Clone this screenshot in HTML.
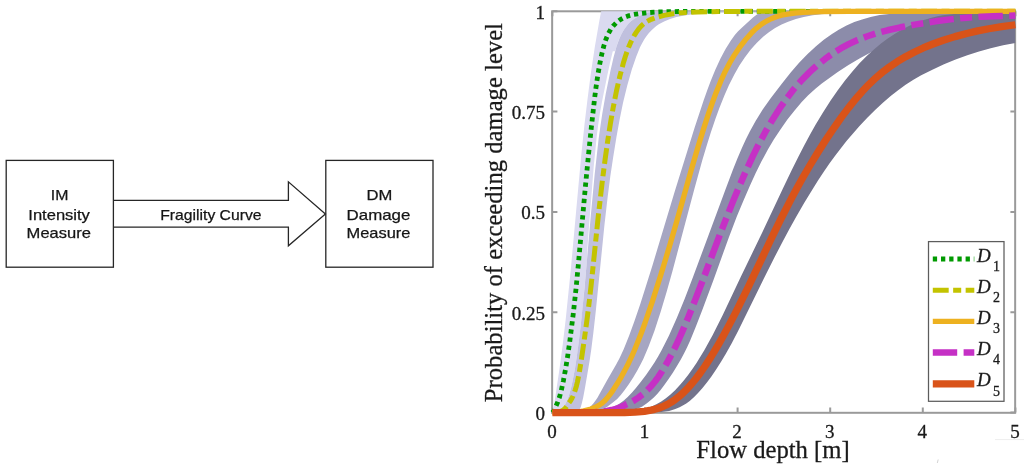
<!DOCTYPE html>
<html lang="en"><head><meta charset="utf-8"><title>Fragility curves</title>
<style>
html,body{margin:0;padding:0;background:#fff;}
body{width:1024px;height:465px;overflow:hidden;position:relative;}
svg{position:absolute;left:0;top:0;display:block;}
.sans{font-family:"Liberation Sans",sans-serif;font-size:15px;fill:#151515;stroke:#151515;stroke-width:0.25px;}
.serif{font-family:"Liberation Serif",serif;fill:#1a1a1a;stroke:#1a1a1a;stroke-width:0.3px;}
.tick{font-size:19px;}
.lab{font-size:24.65px;}
.leg{font-size:19px;font-style:italic;}
.sub{font-size:14px;font-style:normal;}
</style></head><body>
<svg width="1024" height="465" viewBox="0 0 1024 465">
<rect x="0" y="0" width="1024" height="465" fill="#ffffff"/>
<g fill="none" stroke="#262626" stroke-width="1.3">
<rect x="6.2" y="160.4" width="107.2" height="106.8"/>
<rect x="325.8" y="160.4" width="107.2" height="106.8"/>
<path d="M113.4 200.4H288.4V181.8L325.4 213.9L288.4 245.8V227.2H113.4"/>
</g>
<g class="sans" text-anchor="middle" lengthAdjust="spacingAndGlyphs">
<text x="59.6" y="199.8" textLength="17.6" lengthAdjust="spacingAndGlyphs">IM</text>
<text x="59.1" y="219.8" textLength="61.6" lengthAdjust="spacingAndGlyphs">Intensity</text>
<text x="58.8" y="238.4" textLength="64.4" lengthAdjust="spacingAndGlyphs">Measure</text>
<text x="210.9" y="219.8" textLength="101.4" lengthAdjust="spacingAndGlyphs">Fragility Curve</text>
<text x="379.4" y="199.8" textLength="25.8" lengthAdjust="spacingAndGlyphs">DM</text>
<text x="378.5" y="219.8" textLength="63.8" lengthAdjust="spacingAndGlyphs">Damage</text>
<text x="378.5" y="238.4" textLength="63.8" lengthAdjust="spacingAndGlyphs">Measure</text>
</g>
<defs><clipPath id="axclip"><rect x="552.4" y="11.3" width="463.0" height="401.3"/></clipPath></defs>
<g fill="none" stroke="#9a9a9a" stroke-width="2">
<rect x="552.15" y="11.3" width="463" height="401.5"/>
<path d="M552.4 412.6v-5M552.4 11.3v5M645.0 412.6v-5M645.0 11.3v5M737.6 412.6v-5M737.6 11.3v5M830.2 412.6v-5M830.2 11.3v5M922.8 412.6v-5M922.8 11.3v5M1015.4 412.6v-5M1015.4 11.3v5M552.4 412.6h5M1015.4 412.6h-5M552.4 312.3h5M1015.4 312.3h-5M552.4 212.0h5M1015.4 212.0h-5M552.4 111.6h5M1015.4 111.6h-5M552.4 11.3h5M1015.4 11.3h-5"/>
</g>
<g clip-path="url(#axclip)">
<path d="M552.5 412.6L553.5 407.4L555.3 396.9L559.2 370.8L562.7 344.7L565.8 318.6L570.6 271.6L581.1 156.7L584.4 125.3L587.5 99.2L590.9 73.1L594.8 47.0L599.3 20.9L603.3 0.0L1015.4 0.0L1015.4 11.3L689.7 11.3L663.6 11.5L657.4 11.7L652.4 12.1L648.3 12.6L645.8 13.3L641.9 14.7L638.0 16.6L633.9 19.0L630.9 21.3L628.4 23.8L626.1 26.5L624.0 29.5L622.0 33.0L620.1 36.7L618.5 40.6L616.9 45.2L615.1 51.2L612.8 51.2L610.3 61.5L607.8 73.0L602.1 101.3L599.8 114.1L598.2 124.8L596.8 135.7L593.8 165.7L589.3 222.4L587.2 251.4L587.0 259.7L582.6 308.0L580.3 328.9L577.6 350.9L575.3 366.4L573.0 379.1L571.0 388.3L568.7 396.3L566.6 401.6L563.4 407.8L561.6 410.1L560.4 411.0L559.3 411.6L556.5 412.3L552.4 412.6Z" fill="#dadaf0"/>
<path d="M552.4 412.6L556.5 412.3L559.3 411.6L560.4 411.0L561.6 410.1L563.4 407.8L566.6 401.6L568.7 396.2L571.0 388.3L573.0 379.1L575.1 367.8L576.9 355.8L578.7 342.0L580.8 324.4L584.5 288.2L590.9 214.4L594.7 173.9L598.6 139.1L600.5 125.4L602.3 113.4L605.7 94.0L610.3 71.4L613.5 57.4L616.5 46.6L617.9 42.5L619.5 38.3L621.1 34.8L622.7 31.7L624.5 28.8L626.6 25.9L628.8 23.3L630.9 21.3L633.9 19.0L638.0 16.6L641.9 14.7L645.8 13.3L648.3 12.6L652.4 12.1L657.4 11.7L663.6 11.5L689.7 11.3L1015.4 11.3L1015.4 11.3L772.5 11.4L740.0 11.6L717.9 12.3L705.6 13.0L694.5 14.0L684.4 15.4L676.4 17.0L670.0 18.9L664.1 21.4L658.8 24.3L656.3 26.1L654.0 27.9L651.3 30.5L648.7 33.3L646.2 36.5L644.2 39.6L642.1 43.2L640.0 47.3L636.2 56.7L631.8 69.6L627.2 85.7L623.1 102.6L619.5 120.3L616.5 136.7L613.1 157.7L610.3 176.4L607.6 197.4L604.4 225.6L595.7 312.1L593.4 332.6L591.3 349.2L589.5 361.5L585.1 387.2L583.3 396.9L581.9 403.0L580.8 406.9L579.6 409.8L578.5 411.5L577.8 412.1L577.1 412.4L574.6 412.6L552.4 412.6Z" fill="#c0c0de"/>
<path d="M552.4 412.6L570.3 412.5L578.3 412.1L581.5 411.5L584.2 410.7L586.7 409.5L588.8 408.1L591.3 405.7L593.1 403.7L595.2 401.0L597.3 397.9L599.8 393.6L607.1 380.2L616.3 364.3L619.5 358.3L623.8 348.9L629.1 335.8L634.3 321.4L640.3 303.9L652.6 264.9L674.8 191.3L694.5 128.1L703.6 100.4L707.5 89.4L710.8 80.8L715.3 69.8L720.5 58.6L725.7 48.8L730.9 40.4L734.8 35.0L738.1 31.3L742.6 26.9L753.0 17.5L756.9 14.6L758.8 13.5L760.8 12.7L764.7 11.8L771.8 11.4L790.0 11.3L1015.4 11.3L1015.4 11.3L918.6 11.4L876.4 11.7L859.5 12.0L845.2 12.6L832.9 13.3L821.2 14.3L812.8 15.3L803.7 17.1L795.9 19.1L788.1 21.7L781.6 24.5L775.1 28.0L769.2 31.9L763.4 36.6L756.9 42.7L753.7 46.2L750.4 50.0L744.6 57.7L739.4 65.6L734.2 74.7L729.0 85.1L724.4 95.4L719.2 108.5L715.3 119.2L710.8 132.6L706.9 144.9L702.3 160.2L694.5 188.4L672.5 271.0L666.6 292.1L660.6 311.9L654.5 330.7L648.5 346.7L643.3 359.0L640.5 364.6L637.3 370.6L633.2 377.6L628.8 384.3L624.7 390.1L620.8 395.0L617.2 398.9L613.5 402.1L607.6 406.5L604.4 408.4L601.2 409.8L597.7 410.8L593.6 411.5L589.0 412.0L577.4 412.5L552.4 412.6Z" fill="#a6a6c2"/>
<path d="M552.4 412.6L579.9 412.5L592.9 412.1L598.2 411.6L602.5 410.9L606.4 410.0L610.1 408.7L613.5 407.1L619.7 403.4L623.8 400.4L627.7 396.9L631.8 392.8L635.9 388.0L640.7 382.0L646.0 374.9L650.3 368.7L654.5 362.4L658.1 356.4L661.3 350.7L665.0 343.6L668.9 335.7L676.9 317.7L684.7 298.8L693.2 276.6L725.1 190.4L732.9 169.8L737.4 158.5L742.0 147.8L745.9 139.3L749.8 131.4L755.6 120.9L762.7 109.5L770.5 98.4L781.6 83.9L790.7 72.4L799.1 62.7L807.6 54.0L816.0 46.2L823.8 39.8L831.6 34.2L838.7 29.7L846.5 25.6L854.3 22.1L862.1 19.4L870.6 17.0L879.7 15.1L886.8 14.2L898.5 13.1L910.2 12.5L923.8 12.0L956.9 11.4L1015.4 11.3L1015.4 15.4L999.2 16.9L983.6 18.7L968.6 20.9L955.0 23.3L942.0 26.1L929.0 29.5L916.7 33.2L905.0 37.2L893.3 41.8L881.6 46.9L870.6 52.4L859.5 58.4L848.5 65.0L837.4 72.3L821.8 83.5L815.4 88.7L808.2 95.3L801.7 102.1L794.6 110.4L787.4 119.6L780.3 129.7L773.8 139.6L767.9 149.5L761.4 161.5L755.6 173.3L749.8 186.0L743.3 200.9L736.8 216.6L729.0 237.0L713.4 280.2L702.3 310.0L695.8 326.8L690.2 340.4L687.0 347.4L684.0 353.4L680.8 359.4L677.1 365.8L673.0 372.5L668.6 379.0L664.5 384.8L660.6 389.9L657.2 393.9L653.8 397.5L650.3 400.6L646.9 403.2L642.3 406.4L639.1 408.1L635.2 409.6L630.9 410.8L627.2 411.4L622.9 411.9L612.1 412.4L597.3 412.6L552.4 412.6Z" fill="#8c8caa"/>
<path d="M552.4 412.6L600.9 412.6L618.3 412.4L625.2 412.1L630.9 411.7L635.9 411.1L640.3 410.3L645.8 408.8L652.2 406.3L656.8 404.1L661.3 401.5L665.9 398.3L670.5 394.5L675.1 390.2L679.9 385.0L684.0 380.2L688.1 374.9L692.6 368.7L696.5 362.9L704.3 350.3L712.7 334.9L722.5 315.4L741.3 275.8L762.1 232.8L782.9 188.5L792.0 169.6L798.5 156.5L804.3 145.2L810.2 134.3L815.4 125.1L822.5 113.2L830.3 101.1L837.4 90.8L845.2 80.3L852.4 71.4L859.5 63.3L866.7 56.0L874.5 48.9L881.0 43.5L888.1 38.2L894.6 33.9L901.7 29.7L908.9 26.1L916.0 23.0L923.8 20.1L931.6 17.8L937.5 16.3L942.7 15.3L951.7 14.2L962.1 13.3L972.5 12.6L984.9 12.1L1015.4 11.5L1015.4 42.9L1003.1 45.3L990.7 48.2L979.0 51.4L967.3 55.2L955.6 59.5L944.0 64.3L932.9 69.4L921.2 75.3L913.4 79.8L905.6 84.8L897.8 90.4L890.7 96.0L882.9 102.7L875.1 109.9L867.3 117.8L859.5 126.1L853.0 133.4L846.5 141.1L840.7 148.4L835.5 155.2L829.6 163.3L823.8 171.8L818.0 180.6L811.5 190.9L804.3 202.8L796.5 216.2L789.4 229.1L782.2 242.4L774.4 257.5L766.0 274.2L738.1 331.0L731.6 343.5L725.7 354.0L721.2 361.6L716.6 368.8L711.4 376.4L706.9 382.5L702.3 388.2L697.8 393.3L693.9 397.3L689.7 400.9L686.3 403.5L682.8 405.6L679.6 407.3L675.3 409.1L672.3 410.1L669.1 410.9L665.4 411.5L661.3 411.9L653.3 412.4L641.7 412.6L552.4 412.6Z" fill="#73738c"/>
</g>
<g fill="none" stroke-linejoin="round">
<path d="M552.40 412.60L554.25 410.44L555.17 408.44L556.08 405.79L557.68 402.34L559.51 397.03L561.34 390.19L563.40 380.72L565.69 368.36L567.75 355.59L569.81 341.06L573.24 314.04L575.99 289.04L578.28 265.18L585.37 186.86L588.34 156.35L591.32 127.48L594.75 97.04L596.35 84.84L597.95 74.24L600.01 62.68L601.84 53.89L603.90 45.71L605.96 39.24L608.25 33.81L610.76 29.33L612.14 27.35L613.74 25.36L616.94 22.13L620.37 19.56L624.03 17.57L628.61 15.82L633.64 14.51L639.59 13.54L647.60 12.69L656.52 12.09L666.82 11.70L683.98 11.42L710.78 11.31L1015.40 11.30" stroke="#009a00" stroke-width="4.8" stroke-dasharray="4.3 3.9" stroke-dashoffset="0.3"/>
<path d="M552.40 412.60L557.23 412.23L559.06 411.89L560.66 411.41L562.03 410.81L563.40 409.96L564.55 409.03L565.69 407.82L566.84 406.27L568.21 403.94L570.50 400.82L571.64 398.82L572.78 396.47L574.16 393.11L575.30 389.80L576.45 385.94L577.36 382.25L579.19 373.14L581.02 361.98L584.22 340.11L586.97 319.92L589.03 303.54L591.09 285.70L598.18 217.04L602.30 181.27L605.04 159.90L607.79 140.40L610.31 124.11L613.05 108.24L616.48 90.88L619.92 75.90L623.58 62.20L625.18 56.95L627.01 51.52L628.61 47.25L630.44 42.91L632.27 39.11L634.33 35.38L636.39 32.10L638.68 28.96L640.74 26.56L643.02 24.34L644.85 22.88L646.69 21.65L648.97 20.38L651.26 19.31L656.75 17.33L664.07 15.38L671.17 14.04L678.95 13.05L686.72 12.46L697.79 11.96L718.58 11.51L749.11 11.33L1015.40 11.30" stroke="#c3c300" stroke-width="5.0" stroke-dasharray="15.9 4.45 8.05 4.45" stroke-dashoffset="-0.3"/>
<path d="M552.40 412.60L570.27 412.40L575.76 412.10L580.11 411.61L583.77 410.89L590.86 409.01L594.75 407.54L598.41 405.68L601.38 403.67L604.13 401.31L606.87 398.43L609.85 394.71L613.05 390.13L617.63 382.98L621.29 376.80L624.95 370.15L628.38 363.45L631.58 356.70L634.33 350.45L637.76 342.10L641.42 332.68L645.08 322.75L652.40 301.42L661.10 273.96L670.02 244.44L676.20 223.14L691.30 169.68L699.09 143.27L703.64 128.65L708.19 114.68L712.08 103.40L715.98 92.88L720.53 81.68L725.07 71.72L729.62 63.02L734.17 55.37L739.36 47.66L745.21 40.04L751.05 33.39L754.30 30.14L756.90 27.80L761.45 24.25L765.99 21.37L771.19 18.75L776.38 16.72L781.58 15.22L787.43 14.04L794.57 13.08L803.01 12.39L810.81 12.02L821.85 11.70L849.13 11.38L1015.40 11.30" stroke="#edb120" stroke-width="5.3"/>
<path d="M552.40 412.60L580.79 412.49L589.03 412.31L595.66 412.03L601.61 411.57L606.87 410.91L611.45 410.07L615.80 408.94L618.54 408.01L621.06 406.99L625.41 404.77L629.98 402.70L634.33 400.31L638.45 397.63L643.02 394.09L647.37 390.12L651.49 385.76L655.38 380.99L658.35 376.90L661.56 372.06L664.76 366.78L667.96 361.11L671.39 354.64L675.06 347.36L678.49 340.09L681.92 332.42L688.10 317.74L695.20 299.86L702.99 279.59L721.83 229.59L732.87 201.66L739.36 186.02L745.86 171.12L752.35 157.09L758.20 145.30L765.34 131.98L772.49 119.71L779.63 108.46L786.78 98.24L793.92 89.04L801.07 80.82L808.86 72.88L812.76 69.22L817.30 65.19L825.10 58.91L832.89 53.35L840.68 48.48L849.13 43.92L857.57 40.03L866.66 36.50L876.41 33.31L887.45 30.28L900.44 27.31L914.73 24.61L935.51 21.34L952.40 19.13L966.69 17.69L980.98 16.69L993.32 16.15L1015.40 15.61" stroke="#c530c5" stroke-width="6.5" stroke-dasharray="24.4 6.4 12 6.4" stroke-dashoffset="-2.3"/>
<path d="M552.40 412.60L624.49 412.51L635.02 412.17L644.40 411.30L649.66 410.47L654.46 409.38L659.04 408.00L663.39 406.33L667.51 404.36L671.39 402.12L675.28 399.48L679.17 396.43L683.29 392.75L687.41 388.61L691.30 384.30L695.85 378.78L700.39 372.76L704.94 366.26L709.49 359.32L714.03 351.95L719.23 343.06L724.42 333.76L730.27 322.87L736.12 311.59L748.46 286.68L771.19 238.79L780.93 218.80L791.97 197.34L797.17 187.72L803.01 177.27L810.16 165.00L817.95 152.25L825.75 140.09L834.19 127.53L841.33 117.42L848.48 107.88L855.62 99.01L862.12 91.55L869.26 84.06L875.76 77.92L882.25 72.40L889.40 66.97L897.19 61.71L905.63 56.68L914.08 52.22L923.17 47.98L932.91 44.00L943.31 40.29L955.00 36.64L966.69 33.46L977.73 30.90L988.77 28.75L1001.76 26.62L1015.40 24.75" stroke="#d95319" stroke-width="7.3"/>
</g>
<g class="serif tick" text-anchor="middle">
<text x="551.9" y="438.1">0</text><text x="644.5" y="438.1">1</text><text x="737.1" y="438.1">2</text><text x="829.7" y="438.1">3</text><text x="922.3" y="438.1">4</text><text x="1014.9" y="438.1">5</text>
</g>
<g class="serif tick" text-anchor="end">
<text x="545" y="419.9">0</text><text x="545" y="319.6">0.25</text><text x="545" y="219.3">0.5</text><text x="545" y="118.9">0.75</text><text x="545" y="18.6">1</text>
</g>
<text class="serif lab" text-anchor="middle" x="773" y="457.6">Flow depth [m]</text>
<text class="serif lab" text-anchor="middle" transform="translate(502 212.6) rotate(-90)">Probability of exceeding damage level</text>
<rect x="928.5" y="241.6" width="75.5" height="159.7" fill="#fff" stroke="#5c5c5c" stroke-width="1.25"/>
<g fill="none">
<path d="M932.8 259H974.3" stroke="#009a00" stroke-width="4.8" stroke-dasharray="4.3 3.9"/>
<path d="M932.8 290.3H974.3" stroke="#c3c300" stroke-width="5.0" stroke-dasharray="15.9 4.45 8.05 4.45"/>
<path d="M932.8 321.4H974.3" stroke="#edb120" stroke-width="5.3"/>
<path d="M932.8 352.6H974.3" stroke="#c530c5" stroke-width="6.5" stroke-dasharray="24.4 6.4 12 6.4"/>
<path d="M932.8 383.8H974.3" stroke="#d95319" stroke-width="7.3"/>
</g>
<g class="serif leg">
<text x="977" y="261.5">D<tspan class="sub" dx="2.2" dy="9.3">1</tspan></text>
<text x="977" y="292.8">D<tspan class="sub" dx="2.2" dy="9.3">2</tspan></text>
<text x="977" y="323.9">D<tspan class="sub" dx="2.2" dy="9.3">3</tspan></text>
<text x="977" y="355.1">D<tspan class="sub" dx="2.2" dy="9.3">4</tspan></text>
<text x="977" y="386.3">D<tspan class="sub" dx="2.2" dy="9.3">5</tspan></text>
</g>
<path d="M995 439.6H1024" stroke="#eeeeee" stroke-width="1" fill="none"/>
<path d="M938.2 459.5L937.3 463" stroke="#c8c8c8" stroke-width="0.8" fill="none"/>
</svg>
</body></html>
